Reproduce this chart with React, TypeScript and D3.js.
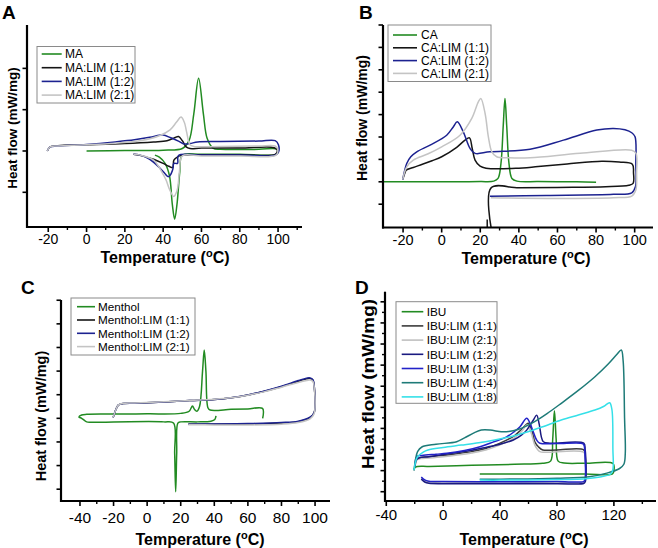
import React from "react";
import * as d3 from "d3";

type Pt = [number, number];

// ---------------- Panel A ----------------
const A_LABELS = ["MA", "MA:LIM (1:1)", "MA:LIM (1:2)", "MA:LIM (2:1)"];
const A_COLORS = ["#228b22", "#151515", "#1c2290", "#c4c4c4"];
const A_MA: Pt[] = [
  [0, 0], [20, 0.01], [40, 0.02], [50, 0.06], [53.5, 0.25], [56, 0.9], [58.5, 1.76], [61, 0.9], [63, 0.3],
  [66, 0.07], [70, 0.04], [90, 0.04], [99, 0.05], [100, 0.0], [99, -0.08], [80, -0.08], [60, -0.08], [50, -0.1],
  [48.7, -0.5], [47.2, -1.3], [46, -1.65], [44.8, -1.3], [43.3, -0.6], [41, -0.3], [38, -0.15], [35.7, -0.1],
];
const A_11: Pt[] = [
  [-20.5, 0], [-19, 0.1], [-15, 0.13], [0, 0.15], [20, 0.18], [35, 0.22], [42, 0.25], [46, 0.32], [48, 0.35],
  [50, 0.25], [52, 0.1], [54, 0.06], [60, 0.07], [80, 0.07], [98, 0.08], [99.6, 0.02], [98.5, -0.08], [80, -0.09],
  [60, -0.09], [50, -0.1], [47.6, -0.14], [45.6, -0.22], [45, -0.4], [43, -0.37], [40, -0.3], [35, -0.2],
  [30, -0.13], [24.5, -0.08],
];
const A_12: Pt[] = [
  [-20.5, 0], [-19, 0.1], [-15, 0.12], [0, 0.16], [15, 0.22], [25, 0.27], [33, 0.33], [38, 0.38], [40, 0.39],
  [44, 0.32], [48, 0.24], [51, 0.17], [54, 0.18], [58, 0.22], [70, 0.23], [90, 0.24], [98.5, 0.25], [100.2, 0.15],
  [100.2, -0.03], [98.5, -0.1], [80, -0.1], [60, -0.1], [48, -0.11], [47.5, -0.3], [45.6, -0.3], [45, -0.45],
  [43.5, -0.6], [42.5, -0.62], [41, -0.55], [38, -0.4], [33, -0.2], [28, -0.1], [24.5, -0.08],
];
const A_21: Pt[] = [
  [-20.5, 0], [-19, 0.1], [-15, 0.12], [0, 0.15], [15, 0.19], [28, 0.25], [38, 0.37], [43.6, 0.51], [47, 0.7],
  [49.3, 0.82], [51, 0.7], [52.3, 0.45], [54, 0.15], [56, 0.11], [70, 0.11], [90, 0.12], [98.5, 0.12], [99.8, 0.04],
  [99, -0.1], [80, -0.12], [60, -0.12], [50, -0.12], [48.5, -0.5], [47.3, -0.95], [45.5, -1.1], [43.5, -0.95],
  [41.5, -0.7], [39.7, -0.54], [35, -0.22], [28, -0.1], [24.5, -0.08],
];
const A_SERIES = [A_MA, A_11, A_12, A_21];

// ---------------- Panel B ----------------
const B_LABELS = ["CA", "CA:LIM (1:1)", "CA:LIM (1:2)", "CA:LIM (2:1)"];
const B_COLORS = ["#228b22", "#151515", "#1c2290", "#c4c4c4"];
const B_CA: Pt[] = [
  [-30.4, 0], [0, 0], [20, 0.01], [27, 0.03], [29.2, 0.15], [30.7, 0.8], [31.9, 2.5], [32.8, 3.72], [33.7, 2.5],
  [34.9, 0.8], [36.4, 0.15], [39, 0.03], [50, 0.01], [70, 0], [80, -0.02],
];
const B_11: Pt[] = [
  [-20.2, 0.1], [-19, 0.4], [-18.4, 0.52], [-14.7, 0.64], [-10, 0.78], [-5, 0.94], [0, 1.12], [7.8, 1.54],
  [12.1, 1.86], [14.4, 1.96], [15.8, 1.5], [17.3, 0.97], [19.9, 0.7], [23, 0.61], [38.4, 0.6], [50, 0.68],
  [65, 0.8], [83, 0.92], [92, 0.88], [98.8, 0.78], [99.4, 0.4], [99.2, -0.07], [97, -0.15], [85, -0.22],
  [60, -0.25], [40, -0.27], [25.6, -0.27], [25.6, -2.04],
];
const B_11_TAIL: Pt[] = [[23.6, -1.68], [23.6, -2.04]];
const B_12: Pt[] = [
  [-20.2, 0.1], [-18.1, 0.82], [-16, 1.12], [-12.9, 1.34], [-6, 1.64], [2.6, 2.08], [6, 2.45], [8.1, 2.68],
  [11.2, 2.23], [14.7, 1.49], [17.3, 1.27], [25, 1.34], [45.8, 1.45], [63.1, 1.86], [80.4, 2.31], [89, 2.38],
  [95, 2.32], [98.5, 2.19], [100.2, 2.01], [100.6, 0.8], [100.4, -0.22], [98.5, -0.49], [89, -0.56],
  [54.5, -0.61], [25, -0.64],
];
const B_21: Pt[] = [
  [-20.2, 0.1], [-18.1, 0.67], [-14.7, 0.97], [-7, 1.25], [0, 1.56], [9.5, 2.08], [15.6, 2.83], [19, 3.57],
  [20.3, 3.72], [22.5, 3.05], [24.2, 2.01], [26, 1.34], [28.5, 1.12], [35, 1.07], [45.8, 1.07], [71.7, 1.27],
  [98.5, 1.41], [100.7, 1.27], [101, 0.4], [100.6, -0.37], [98.5, -0.64], [89, -0.71], [54.5, -0.74], [25.5, -0.71],
];
const B_SERIES = [B_CA, B_11, B_12, B_21];

// ---------------- Panel C ----------------
const C_LABELS = ["Menthol", "Menthol:LIM (1:1)", "Menthol:LIM (1:2)", "Menthol:LIM (2:1)"];
const C_COLORS = ["#228b22", "#151515", "#1c2290", "#c4c4c4"];
const C_MEN: Pt[] = [
  [41, 0.1], [40.3, -0.05], [38, -0.12], [30, -0.15], [20, -0.15], [18.3, -0.2], [17.6, -1.5], [17, -3.11],
  [16.4, -1.5], [15.7, -0.2], [10, -0.15], [-20, -0.15], [-36, -0.15], [-37.5, -0.08], [-39, 0.0],
  [-40.6, 0.05], [-39, 0.14], [-36, 0.17], [-20, 0.18], [0, 0.19], [20, 0.21], [25, 0.3], [27, 0.52],
  [28.2, 0.38], [29.6, 0.3], [31.2, 0.5], [33, 2.0], [34, 2.89], [35, 2.0], [36.2, 0.45], [37.5, 0.35],
  [50, 0.38], [60, 0.4], [68.7, 0.42], [68.8, 0.0],
];
const C_11: Pt[] = [
  [-20.2, 0.04], [-19, 0.3], [-17.2, 0.56], [-15, 0.62], [-7.4, 0.64], [10, 0.69], [25.5, 0.75], [40, 0.8],
  [50, 0.87], [60, 0.99], [70, 1.15], [80, 1.34], [90, 1.57], [95, 1.67], [97, 1.69], [98.7, 1.62], [99.7, 1.2],
  [100, 0.6], [99.5, 0.25], [97, 0.03], [90, -0.14], [80, -0.2], [60, -0.24], [40, -0.25], [24.5, -0.25],
];
const C_12: Pt[] = [
  [-20.2, 0.04], [-19, 0.3], [-17.2, 0.56], [-15, 0.62], [-7.4, 0.64], [10, 0.69], [25.5, 0.75], [40, 0.8],
  [50, 0.87], [60, 0.99], [70, 1.16], [80, 1.36], [90, 1.6], [95, 1.7], [97, 1.71], [98.7, 1.64], [99.7, 1.2],
  [100, 0.6], [99.5, 0.25], [97, 0.05], [90, -0.12], [80, -0.18], [60, -0.22], [40, -0.24], [24.5, -0.25],
];
const C_21: Pt[] = [
  [-20.2, 0.04], [-19, 0.3], [-17.2, 0.56], [-15, 0.63], [-7.4, 0.65], [10, 0.7], [25.5, 0.76], [40, 0.81],
  [50, 0.87], [60, 0.98], [70, 1.13], [80, 1.32], [90, 1.52], [95, 1.6], [97, 1.62], [98.7, 1.56], [99.7, 1.15],
  [100, 0.55], [99.5, 0.2], [97, -0.02], [90, -0.18], [80, -0.25], [60, -0.28], [40, -0.28], [24.5, -0.27],
];
const C_SERIES = [C_MEN, C_11, C_12, C_21];

// ---------------- Panel D ----------------
const D_LABELS = [
  "IBU", "IBU:LIM (1:1)", "IBU:LIM (2:1)", "IBU:LIM (1:2)", "IBU:LIM (1:3)", "IBU:LIM (1:4)", "IBU:LIM (1:8)",
];
const D_COLORS = ["#228b22", "#3c3c3c", "#c0c0c0", "#1a1a80", "#2222c8", "#1e7b78", "#35e0e8"];
const D_IBU: Pt[] = [
  [-20.5, 1.06], [-19.5, 1.17], [-10, 1.2], [20, 1.25], [50, 1.3], [70, 1.35], [75.5, 1.45], [77, 2.5],
  [78.2, 3.84], [79.4, 2.5], [80.8, 1.45], [85, 1.36], [100, 1.35], [119.4, 1.34], [120, 1.0], [119, 0.84],
  [100, 0.84], [60, 0.84], [25.7, 0.84],
];
const D_11: Pt[] = [
  [-19.6, 1.3], [-18.5, 1.55], [-16, 1.62], [-10, 1.66], [0, 1.72], [10, 1.8], [20, 1.9], [30, 2.05], [40, 2.3],
  [50, 2.65], [55, 2.95], [59.9, 3.24], [62.5, 2.85], [64.5, 2.35], [66.9, 2.13], [70, 1.98], [80, 1.98],
  [98.8, 1.98], [99.8, 1.7], [99.9, 0.6], [99, 0.45], [80, 0.42], [40, 0.42], [0, 0.42], [-10, 0.44], [-15.4, 0.6],
];
const D_21: Pt[] = [
  [-19.6, 1.3], [-18.5, 1.5], [-16, 1.57], [-10, 1.6], [0, 1.66], [10, 1.74], [20, 1.84], [30, 1.98], [40, 2.22],
  [50, 2.55], [55, 2.85], [59, 3.16], [61.8, 2.8], [64.5, 2.2], [68, 1.9], [72, 1.87], [98.8, 1.87], [99.8, 1.6],
  [99.9, 0.6], [99, 0.45], [80, 0.42], [40, 0.42], [0, 0.42], [-10, 0.44], [-15.4, 0.6],
];
const D_12: Pt[] = [
  [-19.8, 1.2], [-19, 1.5], [-17, 1.6], [-10, 1.66], [0, 1.76], [10, 1.86], [20, 1.96], [30, 2.1], [40, 2.25],
  [49.3, 2.45], [55, 2.68], [58.7, 2.92], [63.4, 3.4], [65.7, 3.63], [67.5, 3.2], [69, 2.6], [70.4, 2.37],
  [75, 2.3], [98.8, 2.3], [99.8, 2.0], [100, 0.5], [99, 0.4], [80, 0.38], [40, 0.38], [0, 0.38], [-10, 0.4],
  [-13, 0.46], [-15.4, 0.6],
];
const D_13: Pt[] = [
  [-19.8, 1.2], [-18.6, 1.66], [-15, 1.72], [-5, 1.78], [2.5, 1.82], [15, 1.95], [25.9, 2.13], [35, 2.35],
  [44.6, 2.6], [50, 2.85], [54, 3.08], [58.7, 3.48], [61, 3.25], [63, 2.9], [65.7, 2.45], [68, 2.3], [80, 2.28],
  [98, 2.28], [99, 2.2], [99.6, 1.8], [99.6, 0.55], [98.5, 0.48], [80, 0.48], [40, 0.47], [0, 0.48], [-10, 0.5],
  [-13, 0.56], [-15.4, 0.7],
];
const D_14: Pt[] = [
  [-20.5, 1.0], [-19.5, 1.5], [-18, 1.9], [-15, 2.12], [-5, 2.25], [9.5, 2.37], [15, 2.55], [22, 2.8],
  [26.8, 2.92], [33, 2.92], [40.9, 2.84], [46, 2.85], [52.6, 2.95], [58, 3.1], [64.3, 3.32], [73, 3.7],
  [83, 4.19], [95, 4.8], [106.7, 5.45], [116, 6.05], [122, 6.5], [125.2, 6.72], [126.5, 6.2], [127.5, 3.5],
  [128, 1.8], [127, 1.3], [124, 1.1], [115, 0.88], [102.6, 0.71], [80, 0.64], [50, 0.6], [25.7, 0.59],
];
const D_18: Pt[] = [
  [-20.5, 1.03], [-19.5, 1.4], [-18, 1.66], [-14, 1.88], [-10.7, 1.98], [0, 2.1], [12.7, 2.21], [25, 2.32],
  [36.2, 2.45], [48, 2.62], [59.6, 2.84], [70, 3.08], [83, 3.4], [95, 3.64], [106.7, 3.87], [113, 4.05],
  [117, 4.22], [118.6, 3.9], [119.3, 2.0], [119.4, 1.1], [118, 0.85], [111.2, 0.71], [100, 0.62], [70, 0.57],
  [40, 0.55], [25.7, 0.55],
];
const D_SERIES = [D_IBU, D_11, D_21, D_12, D_13, D_14, D_18];

// ---------------- Panel layout ----------------
type PanelCfg = {
  letter: string;
  letterPos: [number, number];
  box: { left: number; right: number; top: number; bottom: number };
  xDomain: [number, number];
  yDomain: [number, number];
  xMajor: number[];
  xMinor: number[];
  yMajor: number[];
  yMinor: number[];
  tickFont: number;
  tickBaseline: number;
  xTitle: { x: number; y: number };
  yTitle: { x: number; y: number; size: number; length?: number };
  series: Pt[][];
  extra?: { data: Pt[]; color: string }[];
  colors: string[];
  labels: string[];
  legend: { x0: number; x1: number; y0: number; y1: number; firstY: number; step: number; lineX0: number; lineX1: number; textX: number; font: number };
};

const range = (a: number, b: number, s: number) => d3.range(a, b + s / 2, s);

const FONT = "'Liberation Sans', Arial, Helvetica, sans-serif";

const PANELS: PanelCfg[] = [
  {
    letter: "A",
    letterPos: [2, 19],
    box: { left: 27, right: 302, top: 25, bottom: 227 },
    xDomain: [-31.1, 112.5],
    yDomain: [-1.84, 3.05],
    xMajor: range(-20, 100, 20),
    xMinor: range(-10, 110, 20),
    yMajor: [-1, 0, 1, 2],
    yMinor: [],
    tickFont: 14,
    tickBaseline: 244,
    xTitle: { x: 165, y: 263 },
    yTitle: { x: 17, y: 128, size: 13.5 },
    series: A_SERIES,
    colors: A_COLORS,
    labels: A_LABELS,
    legend: { x0: 37, x1: 135, y0: 46.5, y1: 103, firstY: 54, step: 13.7, lineX0: 41.7, lineX1: 61.7, textX: 65, font: 12 },
  },
  {
    letter: "B",
    letterPos: [359, 19],
    box: { left: 383, right: 653, top: 25, bottom: 227.5 },
    xDomain: [-30.4, 109.5],
    yDomain: [-2.04, 7.0],
    xMajor: range(-20, 100, 20),
    xMinor: range(-10, 90, 20),
    yMajor: range(-1, 7, 1),
    yMinor: [],
    tickFont: 14.5,
    tickBaseline: 245,
    xTitle: { x: 526, y: 263.5 },
    yTitle: { x: 367, y: 118, size: 14 },
    series: B_SERIES,
    extra: [{ data: B_11_TAIL, color: "#151515" }],
    colors: B_COLORS,
    labels: B_LABELS,
    legend: { x0: 388, x1: 491, y0: 25, y1: 81.5, firstY: 35, step: 12.8, lineX0: 393, lineX1: 417, textX: 421, font: 12 },
  },
  {
    letter: "C",
    letterPos: [21, 294],
    box: { left: 61, right: 330, top: 300, bottom: 501 },
    xDomain: [-51.3, 108.9],
    yDomain: [-3.5, 5.01],
    xMajor: range(-40, 100, 20),
    xMinor: range(-30, 90, 20),
    yMajor: range(-3, 5, 1),
    yMinor: [],
    tickFont: 15.5,
    tickBaseline: 523,
    xTitle: { x: 200, y: 545 },
    yTitle: { x: 46, y: 416, size: 14.5 },
    series: C_SERIES,
    colors: C_COLORS,
    labels: C_LABELS,
    legend: { x0: 71, x1: 195, y0: 298, y1: 355, firstY: 306.7, step: 13.3, lineX0: 77, lineX1: 95, textX: 98, font: 11.7 },
  },
  {
    letter: "D",
    letterPos: [355, 294],
    box: { left: 385, right: 656, top: 291.7, bottom: 501 },
    xDomain: [-40.9, 149.6],
    yDomain: [-0.44, 9.48],
    xMajor: range(-40, 120, 40),
    xMinor: range(-20, 140, 40),
    yMajor: range(0, 9, 1),
    yMinor: range(0.5, 8.5, 1),
    tickFont: 15,
    tickBaseline: 520,
    xTitle: { x: 524, y: 545 },
    yTitle: { x: 374, y: 384, size: 16.5, length: 170 },
    series: D_SERIES,
    colors: D_COLORS,
    labels: D_LABELS,
    legend: { x0: 396, x1: 497, y0: 301.7, y1: 403.3, firstY: 311.7, step: 14.2, lineX0: 401.7, lineX1: 423.3, textX: 426.7, font: 11.8 },
  },
];

function Panel({ p }: { p: PanelCfg }) {
  const { box } = p;
  const x = d3.scaleLinear().domain(p.xDomain).range([box.left, box.right]);
  const y = d3.scaleLinear().domain(p.yDomain).range([box.bottom, box.top]);
  const line = d3
    .line<Pt>()
    .x((d) => x(d[0]))
    .y((d) => y(d[1]))
    .curve(d3.curveCatmullRom.alpha(0.5));
  const lg = p.legend;
  return (
    <g>
      <text x={p.letterPos[0]} y={p.letterPos[1]} fontFamily={FONT} fontWeight="bold" fontSize={19} fill="#000">
        {p.letter}
      </text>
      {p.series.map((s, i) => (
        <path key={i} d={line(s) || ""} fill="none" stroke={p.colors[i]} strokeWidth={1.5} strokeLinejoin="round" />
      ))}
      {(p.extra || []).map((e, i) => (
        <path key={"e" + i} d={line(e.data) || ""} fill="none" stroke={e.color} strokeWidth={1.5} />
      ))}
      {/* axes */}
      <line x1={box.left} x2={box.left} y1={box.top} y2={box.bottom + 1} stroke="#000" strokeWidth={2.2} />
      <line x1={box.left - 1} x2={box.right} y1={box.bottom} y2={box.bottom} stroke="#000" strokeWidth={2.2} />
      {p.xMajor.map((t) => (
        <line key={"xM" + t} x1={x(t)} x2={x(t)} y1={box.bottom} y2={box.bottom + 5} stroke="#000" strokeWidth={1.6} />
      ))}
      {p.xMinor.map((t) => (
        <line key={"xm" + t} x1={x(t)} x2={x(t)} y1={box.bottom} y2={box.bottom + 3} stroke="#000" strokeWidth={1.4} />
      ))}
      {p.yMajor.map((t) => (
        <line key={"yM" + t} x1={box.left - 4.5} x2={box.left} y1={y(t)} y2={y(t)} stroke="#000" strokeWidth={1.6} />
      ))}
      {p.yMinor.map((t) => (
        <line key={"ym" + t} x1={box.left - 3} x2={box.left} y1={y(t)} y2={y(t)} stroke="#000" strokeWidth={1.4} />
      ))}
      {p.xMajor.map((t) => (
        <text
          key={"xl" + t}
          x={x(t)}
          y={p.tickBaseline}
          textAnchor="middle"
          fontFamily={FONT}
          fontSize={p.tickFont}
          fill="#000"
        >
          {t}
        </text>
      ))}
      <text x={p.xTitle.x} y={p.xTitle.y} textAnchor="middle" fontFamily={FONT} fontWeight="bold" fontSize={16} fill="#000">
        Temperature (
        <tspan fontSize={11} dy={-6}>
          o
        </tspan>
        <tspan dy={6}>C)</tspan>
      </text>
      <text
        transform={`translate(${p.yTitle.x},${p.yTitle.y}) rotate(-90)`}
        textAnchor="middle"
        fontFamily={FONT}
        fontWeight="bold"
        fontSize={p.yTitle.size}
        fill="#000"
        textLength={p.yTitle.length}
        lengthAdjust={p.yTitle.length ? "spacingAndGlyphs" : undefined}
      >
        Heat flow (mW/mg)
      </text>
      {/* legend */}
      <rect x={lg.x0} y={lg.y0} width={lg.x1 - lg.x0} height={lg.y1 - lg.y0} fill="#fff" stroke="#8a8a8a" strokeWidth={1} />
      {p.labels.map((lab, i) => {
        const yy = lg.firstY + i * lg.step;
        return (
          <g key={"lg" + i}>
            <line x1={lg.lineX0} x2={lg.lineX1} y1={yy} y2={yy} stroke={p.colors[i]} strokeWidth={1.6} />
            <text x={lg.textX} y={yy + lg.font * 0.36} fontFamily={FONT} fontSize={lg.font} fill="#000">
              {lab}
            </text>
          </g>
        );
      })}
    </g>
  );
}

export default function App() {
  return (
    <svg
      width={658}
      height={548}
      viewBox="0 0 658 548"
      style={{ position: "absolute", left: 0, top: 0, background: "#fff" }}
    >
      <rect x={0} y={0} width={658} height={548} fill="#fff" />
      {PANELS.map((p) => (
        <Panel key={p.letter} p={p} />
      ))}
    </svg>
  );
}
